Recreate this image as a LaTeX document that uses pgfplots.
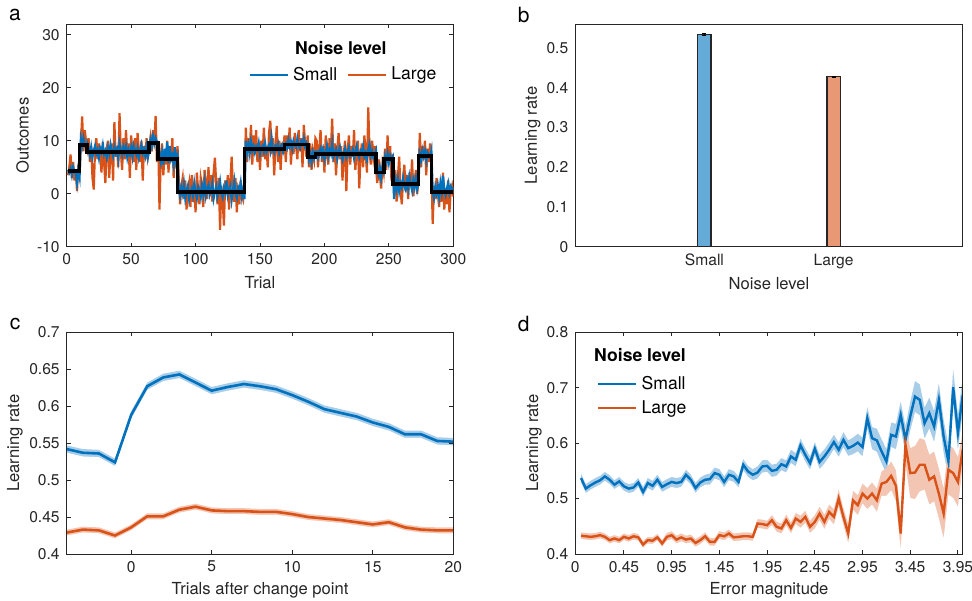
\documentclass[border=0pt]{standalone}
\usepackage{fontspec}
\setmainfont{TeX Gyre Heros}
\usepackage{pgfplots}
\pgfplotsset{compat=1.18}
\usepackage{pgfplotstable}
\definecolor{mblue}{HTML}{0072BD}
\definecolor{morange}{HTML}{D95319}
\definecolor{axc}{HTML}{262626}
\definecolor{barblue}{HTML}{66AAD7}
\definecolor{barorange}{HTML}{E89875}
\definecolor{bandblue}{HTML}{A8CDE9}
\definecolor{bandorange}{HTML}{F3C6B3}

\pgfplotstableread{
t s l
1 4.5 3.5
2 4.0 5.0
3 4.8 7.4
4 3.5 3.0
5 5.0 6.0
6 4.2 2.5
7 3.8 4.5
8 2.0 0.5
9 4.6 5.5
10 3.2 3.8
11 10.3 9.5
12 9.0 14.6
13 10.5 8.0
14 9.2 12.0
15 8.8 10.0
16 9.6 8.5
17 8.5 10.5
18 7.2 6.0
19 8.8 9.0
20 7.0 3.0
21 8.2 0.8
22 9.0 8.5
23 7.5 10.5
24 8.3 6.5
25 6.8 9.5
26 8.6 7.0
27 7.9 4.0
28 9.2 9.8
29 7.4 6.0
30 8.1 2.0
31 6.9 8.5
32 8.7 10.0
33 7.6 3.0
34 9.3 8.0
35 8.0 9.5
36 7.1 2.5
37 8.9 13.5
38 7.7 7.0
39 8.4 9.0
40 6.6 5.0
41 9.5 15.2
42 8.1 8.0
43 7.3 4.5
44 8.8 10.5
45 7.8 6.5
46 9.0 12.0
47 6.9 7.5
48 8.3 9.5
49 7.5 3.0
50 8.7 11.0
51 7.0 8.0
52 9.1 6.0
53 8.2 10.5
54 7.4 4.5
55 8.6 11.5
56 6.8 8.0
57 8.0 6.0
58 9.2 10.0
59 7.6 2.5
60 8.4 9.0
61 7.2 6.5
62 8.9 10.5
63 6.9 7.0
64 8.3 8.5
65 10.2 10.5
66 9.0 8.0
67 10.8 12.0
68 9.4 9.5
69 10.5 14.7
70 9.8 6.0
71 8.9 10.0
72 7.5 -3.0
73 6.0 7.0
74 7.8 9.5
75 5.5 3.5
76 8.5 8.0
77 6.2 5.5
78 9.8 10.0
79 5.8 4.0
80 9.0 9.0
81 6.5 6.0
82 7.2 10.5
83 5.5 3.0
84 8.8 7.5
85 6.0 5.0
86 7.0 9.0
87 0.8 2.5
88 -0.5 -2.0
89 1.2 1.5
90 0.0 3.0
91 1.8 -1.0
92 -0.8 2.5
93 0.6 -3.0
94 1.5 0.5
95 -1.0 2.0
96 0.3 -2.5
97 1.0 3.5
98 -0.3 -1.5
99 2.0 1.0
100 0.2 -3.5
101 -0.8 4.0
102 1.3 0.5
103 0.5 -2.0
104 -0.6 3.0
105 1.6 1.5
106 0.0 -2.5
107 2.2 4.5
108 -0.4 2.0
109 0.9 -1.0
110 1.7 5.0
111 -0.2 1.0
112 0.6 3.5
113 2.0 -1.5
114 -0.9 4.0
115 0.4 6.8
116 1.4 2.0
117 -0.5 -2.0
118 0.8 3.0
119 2.3 -6.8
120 0.1 1.5
121 -0.7 -1.0
122 1.1 -6.0
123 0.3 2.5
124 2.5 0.0
125 -0.3 3.5
126 0.7 -3.0
127 1.5 2.0
128 -1.2 7.0
129 0.5 1.0
130 2.4 -1.5
131 0.0 3.0
132 -0.8 -3.5
133 1.2 1.5
134 0.4 -2.0
135 2.0 2.5
136 -0.6 0.0
137 0.9 -1.0
138 -1.0 1.5
139 10.0 12.5
140 8.0 6.0
141 9.3 10.5
142 7.6 8.0
143 9.8 13.0
144 8.2 5.5
145 9.0 11.0
146 7.8 7.5
147 8.9 12.0
148 8.4 6.0
149 9.6 9.5
150 7.5 4.5
151 8.7 10.0
152 9.1 7.0
153 8.0 12.5
154 9.5 6.5
155 7.9 9.0
156 8.6 5.0
157 9.2 11.5
158 8.1 13.8
159 10.5 7.5
160 8.3 10.5
161 7.7 3.5
162 9.0 9.0
163 8.5 12.8
164 9.4 6.0
165 7.8 10.0
166 8.8 4.5
167 9.3 9.5
168 8.0 7.5
169 9.0 11.0
170 9.5 6.0
171 8.7 11.0
172 10.2 8.5
173 9.0 12.5
174 9.8 5.5
175 8.5 10.0
176 10.0 7.5
177 9.3 11.5
178 8.8 9.0
179 10.4 6.5
180 9.1 12.0
181 8.6 8.0
182 9.9 10.5
183 9.4 5.0
184 10.5 13.0
185 8.9 9.5
186 9.6 7.0
187 9.0 11.0
188 6.5 5.0
189 7.5 9.5
190 6.0 4.5
191 7.8 8.0
192 6.8 6.5
193 8.0 10.5
194 8.0 10.0
195 6.8 5.0
196 7.9 8.5
197 8.6 12.0
198 7.2 6.0
199 8.3 9.0
200 6.5 4.0
201 7.8 11.0
202 9.0 7.5
203 7.0 5.5
204 8.2 10.5
205 7.5 8.0
206 9.6 14.2
207 6.9 6.0
208 7.7 9.5
209 8.4 3.5
210 6.6 8.5
211 7.9 11.5
212 8.8 6.5
213 7.3 9.0
214 6.4 2.5
215 7.6 7.5
216 8.5 10.0
217 6.9 0.5
218 7.8 8.0
219 8.7 11.0
220 7.1 5.5
221 7.5 9.0
222 8.3 7.0
223 6.7 12.0
224 7.9 4.5
225 9.0 8.5
226 7.4 10.0
227 6.8 1.0
228 8.1 7.0
229 7.6 9.5
230 8.9 5.0
231 7.0 11.0
232 7.7 7.5
233 6.5 4.0
234 8.4 16.3
235 9.4 8.0
236 7.2 5.5
237 8.0 10.0
238 6.9 7.0
239 7.5 9.0
240 8.2 5.0
241 4.5 2.0
242 3.5 6.5
243 5.0 3.5
244 3.0 1.0
245 4.8 5.5
246 4.2 4.0
247 7.0 8.5
248 6.0 4.5
249 7.5 11.0
250 5.8 6.0
251 7.2 9.0
252 6.3 2.5
253 6.9 7.5
254 -1.0 0.0
255 2.5 4.5
256 1.0 -1.5
257 2.8 3.0
258 0.5 7.0
259 2.0 1.0
260 1.2 -2.0
261 3.0 2.5
262 1.5 5.5
263 0.8 0.5
264 2.5 3.5
265 1.0 -1.0
266 3.2 4.0
267 1.8 1.5
268 0.6 6.5
269 2.6 -0.5
270 1.3 2.5
271 2.9 4.5
272 0.9 0.0
273 2.2 3.0
274 7.5 11.5
275 6.5 5.0
276 8.2 9.0
277 7.0 6.5
278 8.0 10.0
279 6.2 3.5
280 7.8 8.5
281 7.2 6.0
282 6.8 9.5
283 8.1 5.0
284 0.5 -5.7
285 -0.8 1.5
286 1.2 -1.0
287 0.0 3.0
288 1.5 0.0
289 -0.5 -2.5
290 2.0 2.0
291 0.3 -1.5
292 3.4 4.0
293 0.8 -3.0
294 -0.2 1.0
295 1.0 -2.0
296 2.0 2.5
297 0.2 -3.5
298 1.3 0.5
299 0.6 1.5
300 1.2 -0.5
}\dataA

\pgfplotstableread{
x s se l le
-4 0.542 0.005 0.429 0.004
-3 0.537 0.005 0.433 0.004
-2 0.536 0.005 0.432 0.004
-1 0.524 0.005 0.425 0.004
0 0.588 0.005 0.436 0.004
1 0.627 0.005 0.451 0.004
2 0.639 0.005 0.451 0.004
3 0.643 0.005 0.460 0.004
4 0.632 0.005 0.464 0.004
5 0.621 0.005 0.459 0.004
6 0.626 0.005 0.458 0.004
7 0.630 0.005 0.458 0.004
8 0.627 0.005 0.457 0.004
9 0.623 0.005 0.457 0.004
10 0.615 0.005 0.454 0.004
11 0.606 0.005 0.450 0.004
12 0.596 0.005 0.448 0.004
13 0.591 0.005 0.446 0.004
14 0.586 0.005 0.443 0.004
15 0.578 0.005 0.440 0.004
16 0.572 0.005 0.443 0.004
17 0.562 0.005 0.436 0.004
18 0.562 0.005 0.433 0.004
19 0.553 0.005 0.432 0.004
20 0.552 0.005 0.432 0.004
}\dataC

\pgfplotstableread{
x s se l le
0.00 0.537 0.008 0.433 0.006
0.05 0.518 0.008 0.432 0.006
0.10 0.524 0.008 0.431 0.006
0.15 0.529 0.008 0.432 0.006
0.20 0.533 0.008 0.434 0.006
0.25 0.540 0.008 0.431 0.006
0.30 0.534 0.008 0.425 0.006
0.35 0.525 0.008 0.428 0.006
0.40 0.531 0.008 0.425 0.006
0.45 0.522 0.008 0.431 0.006
0.50 0.518 0.008 0.428 0.006
0.55 0.520 0.008 0.432 0.006
0.60 0.529 0.008 0.430 0.006
0.65 0.512 0.009 0.417 0.006
0.70 0.528 0.009 0.425 0.006
0.75 0.523 0.009 0.424 0.006
0.80 0.534 0.009 0.430 0.006
0.85 0.521 0.009 0.419 0.006
0.90 0.526 0.009 0.431 0.007
0.95 0.530 0.009 0.434 0.007
1.00 0.528 0.009 0.426 0.007
1.05 0.530 0.009 0.430 0.007
1.10 0.543 0.009 0.426 0.007
1.15 0.534 0.009 0.428 0.007
1.20 0.519 0.009 0.420 0.007
1.25 0.529 0.009 0.425 0.007
1.30 0.534 0.009 0.432 0.007
1.35 0.535 0.010 0.422 0.007
1.40 0.546 0.010 0.422 0.007
1.45 0.543 0.010 0.434 0.007
1.50 0.530 0.010 0.432 0.007
1.55 0.543 0.010 0.437 0.007
1.60 0.540 0.010 0.430 0.007
1.65 0.530 0.010 0.431 0.007
1.70 0.561 0.010 0.432 0.007
1.75 0.549 0.010 0.432 0.007
1.80 0.543 0.010 0.431 0.007
1.85 0.547 0.011 0.455 0.008
1.90 0.558 0.011 0.454 0.008
1.95 0.559 0.011 0.452 0.008
2.00 0.550 0.011 0.461 0.009
2.05 0.552 0.011 0.449 0.009
2.10 0.562 0.011 0.446 0.009
2.15 0.558 0.011 0.461 0.010
2.20 0.576 0.012 0.447 0.010
2.25 0.570 0.012 0.464 0.010
2.30 0.596 0.012 0.458 0.011
2.35 0.579 0.012 0.467 0.011
2.40 0.564 0.012 0.449 0.011
2.45 0.590 0.012 0.458 0.012
2.50 0.566 0.013 0.473 0.012
2.55 0.576 0.013 0.458 0.013
2.60 0.588 0.013 0.476 0.013
2.65 0.602 0.013 0.467 0.014
2.70 0.588 0.013 0.500 0.016
2.75 0.606 0.014 0.467 0.015
2.80 0.591 0.014 0.437 0.018
2.85 0.595 0.015 0.497 0.017
2.90 0.601 0.016 0.488 0.018
2.95 0.593 0.017 0.509 0.018
3.00 0.645 0.020 0.500 0.019
3.05 0.609 0.020 0.509 0.020
3.10 0.605 0.021 0.497 0.021
3.15 0.585 0.022 0.527 0.022
3.20 0.567 0.022 0.530 0.025
3.25 0.615 0.022 0.541 0.026
3.30 0.612 0.023 0.523 0.028
3.35 0.651 0.024 0.437 0.030
3.40 0.606 0.025 0.597 0.035
3.45 0.648 0.026 0.546 0.045
3.50 0.684 0.028 0.547 0.048
3.55 0.678 0.028 0.561 0.048
3.60 0.636 0.028 0.561 0.045
3.65 0.654 0.028 0.534 0.045
3.70 0.630 0.028 0.540 0.045
3.75 0.678 0.030 0.509 0.045
3.80 0.612 0.030 0.473 0.045
3.85 0.567 0.030 0.552 0.045
3.90 0.701 0.032 0.546 0.045
3.95 0.619 0.032 0.530 0.045
4.00 0.687 0.032 0.589 0.030
}\dataD

\pgfplotsset{
  panel/.style={
    scale only axis, anchor=south west,
    axis line style={axc, line width=0.5pt},
    tick style={axc, line width=0.5pt},
    tick align=inside, major tick length=2pt,
    every tick label/.append style={font=\fontsize{7.8}{9}\selectfont, text=axc},
    label style={font=\fontsize{8.3}{10}\selectfont, text=axc},
    /pgf/number format/assume math mode=true,
    /pgf/number format/fixed,
    legend style={draw=none, fill=none, font=\fontsize{8.8}{10}\selectfont, text=black},
    legend cell align=left,
    legend image code/.code={\draw[##1] (0pt,0pt) -- (19pt,0pt);},
  },
}

\begin{document}
\begin{tikzpicture}
\path[use as bounding box] (0,0) rectangle (486pt,300pt);

% panel letters
\node[font=\fontsize{10.5}{12}\selectfont] at (7.5pt,292.5pt) {a};
\node[font=\fontsize{10.5}{12}\selectfont] at (261.85pt,292.5pt) {b};
\node[font=\fontsize{10.5}{12}\selectfont] at (7.5pt,138pt) {c};
\node[font=\fontsize{10.5}{12}\selectfont] at (261.85pt,138pt) {d};

% ---------- a ----------
\begin{axis}[panel, at={(33.35pt,176.65pt)}, width=193.3pt, height=111.2pt,
  xmin=0, xmax=300, ymin=-10, ymax=32,
  xtick={0,50,100,150,200,250,300}, ytick={-10,0,10,20,30},
  xlabel={Trial}, ylabel={Outcomes},
  xlabel style={at={(axis description cs:0.5,-0.163)}, anchor=center},
  ylabel style={at={(axis description cs:-0.114,0.5)}, anchor=center},
  legend columns=2,
  legend style={at={(axis description cs:0.455,0.772)}, anchor=west,
    /tikz/every even column/.append style={column sep=3pt}},
]
\addplot[morange, line width=1.1pt, forget plot] table[x=t, y=l] {\dataA};
\addplot[mblue, line width=1.1pt] table[x=t, y=s] {\dataA};
\addlegendentry{Small}
\addlegendimage{morange, line width=1.1pt}
\addlegendentry{Large}
\addplot[black, line width=1.9pt, const plot, forget plot] coordinates {
(1,4.3) (10,9.2) (16,7.9) (64,9.6) (71,6.6) (86,0.4) (138,8.5) (169,9.3) (187,6.9) (193,7.5) (240,4.0) (246,6.6) (253,1.8) (273,7.1) (283,0.3) (300,0.3)};
\node[font=\bfseries\fontsize{8.8}{10}\selectfont] at (axis description cs:0.709,0.893) {Noise level};
\end{axis}

% ---------- b ----------
\begin{axis}[panel, at={(287.65pt,176.65pt)}, width=193.7pt, height=111.2pt,
  xmin=0, xmax=3, ymin=0, ymax=0.56,
  xtick={1,2}, xticklabels={Small,Large},
  ytick={0,0.1,0.2,0.3,0.4,0.5}, major tick length=0pt,
  xlabel={Noise level}, ylabel={Learning rate},
  xlabel style={at={(axis description cs:0.5,-0.165)}, anchor=center},
  ylabel style={at={(axis description cs:-0.11,0.5)}, anchor=center},
]
\addplot[ybar, bar width=0.103, bar shift=0pt, fill=barblue, draw=axc, line width=0.6pt,
  error bars/.cd, y dir=both, y explicit, error bar style={black, line width=0.6pt},
  error mark options={rotate=90, mark size=1pt, black}]
  coordinates {(1,0.535) +- (0,0.002)};
\addplot[ybar, bar width=0.103, bar shift=0pt, fill=barorange, draw=axc, line width=0.6pt,
  error bars/.cd, y dir=both, y explicit, error bar style={black, line width=0.6pt},
  error mark options={rotate=90, mark size=1pt, black}]
  coordinates {(2,0.428) +- (0,0.002)};
\end{axis}

% ---------- c ----------
\begin{axis}[panel, at={(33.35pt,23pt)}, width=193.3pt, height=110.85pt,
  xmin=-4, xmax=20, ymin=0.4, ymax=0.7, axis on top,
  xtick={0,5,10,15,20}, ytick={0.4,0.45,0.5,0.55,0.6,0.65,0.7},
  xlabel={Trials after change point}, ylabel={Learning rate},
  xlabel style={at={(axis description cs:0.5,-0.162)}, anchor=center},
  ylabel style={at={(axis description cs:-0.134,0.5)}, anchor=center},
]
\addplot[draw=none, fill=bandblue, forget plot] table[x=x, y expr=\thisrow{s}+\thisrow{se}] {\dataC} \closedcycle;
\addplot[draw=none, fill=white, forget plot] table[x=x, y expr=\thisrow{s}-\thisrow{se}] {\dataC} \closedcycle;
\addplot[draw=none, fill=bandorange, forget plot] table[x=x, y expr=\thisrow{l}+\thisrow{le}] {\dataC} \closedcycle;
\addplot[draw=none, fill=white, forget plot] table[x=x, y expr=\thisrow{l}-\thisrow{le}] {\dataC} \closedcycle;
\addplot[mblue, line width=1.3pt] table[x=x, y=s] {\dataC};
\addplot[morange, line width=1.3pt] table[x=x, y=l] {\dataC};
\end{axis}

% ---------- d ----------
\begin{axis}[panel, at={(287.65pt,23pt)}, width=193.7pt, height=110.85pt,
  xmin=-0.06, xmax=4.0, ymin=0.4, ymax=0.8, axis on top,
  xtick={-0.06,0.45,0.95,1.45,1.95,2.45,2.95,3.45,3.95},
  xticklabels={0,0.45,0.95,1.45,1.95,2.45,2.95,3.45,3.95},
  ytick={0.4,0.5,0.6,0.7,0.8},
  xlabel={Error magnitude}, ylabel={Learning rate},
  xlabel style={at={(axis description cs:0.5,-0.162)}, anchor=center},
  ylabel style={at={(axis description cs:-0.107,0.5)}, anchor=center},
  legend style={at={(axis description cs:0.04,0.84)}, anchor=north west},
]
\addplot[draw=none, fill=bandblue, forget plot] table[x=x, y expr=\thisrow{s}+\thisrow{se}] {\dataD} \closedcycle;
\addplot[draw=none, fill=white, forget plot] table[x=x, y expr=\thisrow{s}-\thisrow{se}] {\dataD} \closedcycle;
\addplot[draw=none, fill=bandorange, forget plot] table[x=x, y expr=\thisrow{l}+\thisrow{le}] {\dataD} \closedcycle;
\addplot[draw=none, fill=white, forget plot] table[x=x, y expr=\thisrow{l}-\thisrow{le}] {\dataD} \closedcycle;
\addplot[mblue, line width=1.2pt] table[x=x, y=s] {\dataD};
\addlegendentry{Small}
\addplot[morange, line width=1.2pt] table[x=x, y=l] {\dataD};
\addlegendentry{Large}
\node[font=\bfseries\fontsize{8.8}{10}\selectfont] at (axis description cs:0.167,0.898) {Noise level};
\end{axis}
\end{tikzpicture}
\end{document}
